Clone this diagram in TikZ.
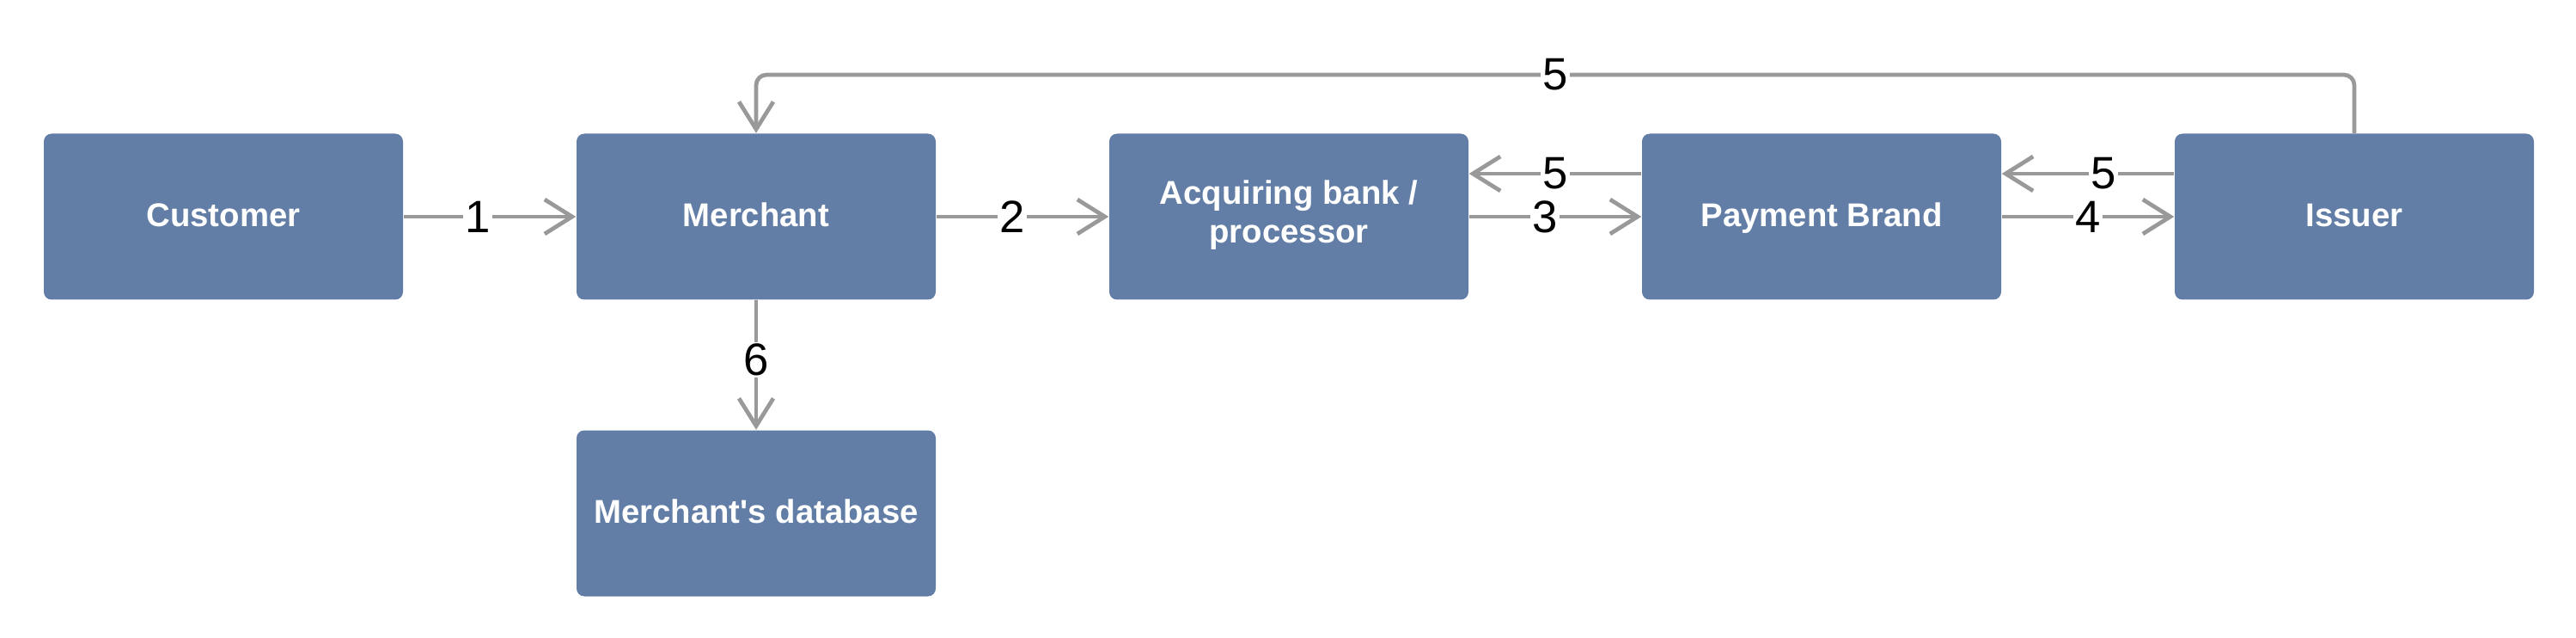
\documentclass[tikz,border=0pt]{standalone}
\usepackage{fontspec}
\setmainfont{Liberation Sans}
\usetikzlibrary{arrows.meta}
\definecolor{boxblue}{RGB}{98,126,166}
\definecolor{linegray}{RGB}{153,153,153}
\tikzset{
  box/.style={draw=none, fill=boxblue, rounded corners=0.09cm, minimum width=4.18cm, minimum height=1.93cm,
    text=white, font=\fontsize{10.9}{12.7}\selectfont\bfseries, align=center, inner sep=0pt, text depth=0.04cm},
  conn/.style={draw=linegray, line width=1.35pt, -{Straight Barb[length=0.32cm, width=0.40cm, line width=1.35pt]}},
  lbl/.style={fill=white, text=black, inner sep=0.6pt, font=\fontsize{15}{18}\selectfont}
}
\begin{document}
\begin{tikzpicture}
\useasboundingbox (0,0) rectangle (29.98,-7.42);
\node[box] (cus) at (2.60,-2.52) {Customer};
\node[box] (mer) at (8.80,-2.52) {Merchant};
\node[box, text depth=0.12cm] (acq) at (15.00,-2.52) {Acquiring bank /\\processor};
\node[box] (pb)  at (21.20,-2.52) {Payment Brand};
\node[box] (iss) at (27.40,-2.52) {Issuer};
\node[box] (db)  at (8.80,-5.97) {Merchant\textquotesingle s database};
\coordinate (top) at (0,-0.87);

\draw[conn] (cus.east) -- (mer.west) node[lbl, pos=0.43] {1};
\draw[conn] (mer.east) -- (acq.west) node[lbl, pos=0.44] {2};
\draw[conn] (acq.east) -- (pb.west) node[lbl, pos=0.44] {3};
\draw[conn] ([yshift=0.5cm]pb.west) -- ([yshift=0.5cm]acq.east) node[lbl, pos=0.5] {5};
\draw[conn] (pb.east) -- (iss.west) node[lbl, pos=0.5] {4};
\draw[conn] ([yshift=0.5cm]iss.west) -- ([yshift=0.5cm]pb.east) node[lbl, pos=0.41] {5};
\draw[conn] (mer.south) -- (db.north) node[lbl, pos=0.46] {6};
\draw[conn, rounded corners=0.12cm] (iss.north) -- (iss.north |- top) -- (mer.north |- top) node[lbl, pos=0.5] {5} -- (mer.north);
\end{tikzpicture}
\end{document}
